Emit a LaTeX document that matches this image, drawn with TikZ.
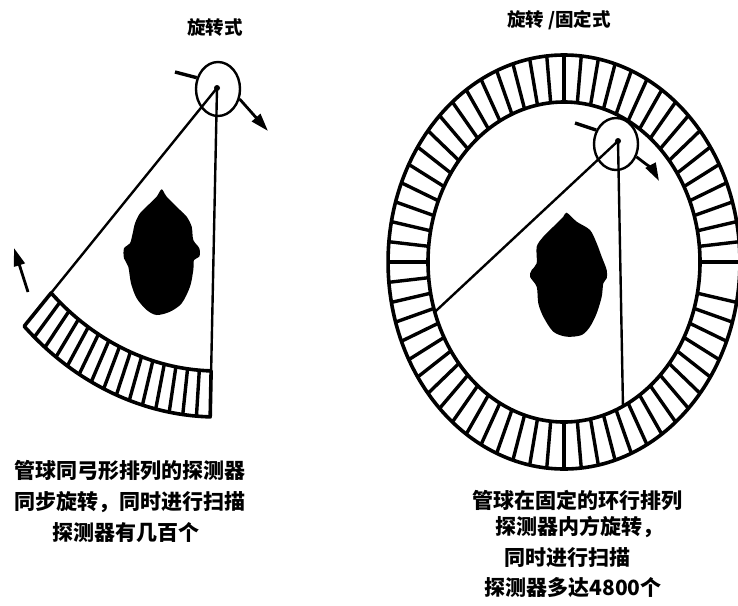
\documentclass[tikz,border=0pt]{standalone}
\usepackage{fontspec}
\newfontfamily\cjk{Noto Sans CJK SC}
\usetikzlibrary{arrows.meta,shapes.geometric}

\begin{document}
\begin{tikzpicture}[x=1pt,y=-1pt,line join=round,
  beamline/.style={line width=2.4pt},
  ringedge/.style={line width=3.6pt},
  cellwall/.style={line width=3.4pt},
  tubebox/.style={draw,ellipse,line width=2.4pt,minimum width=44pt,minimum height=54pt,inner sep=0pt},
  motionarrow/.style={line width=2.8pt,-{Triangle[length=18pt,width=11pt]}},
  stubline/.style={line width=3.4pt},
  focusdot/.style={circle,fill,inner sep=0pt,minimum size=6pt},
  headblob/.style={fill=black},
  captext/.style={font=\cjk\bfseries\fontsize{21}{21}\selectfont,inner sep=0pt},
  titletext/.style={font=\cjk\bfseries\fontsize{18.5}{18.5}\selectfont,inner sep=0pt}]
\useasboundingbox (0,0) rectangle (738,605);
\fill[white] (0,0) rectangle (738,605);

% ---------- rotate/rotate scanner ----------
\coordinate (fL) at (217,88);
\begin{scope}[shift={(217,88)},xscale=0.85,yscale=-1]
  \draw[ringedge] (226.4:283) arc[start angle=226.4,end angle=268.6,radius=283]
    -- (268.6:329) arc[start angle=268.6,end angle=226.4,radius=329] -- cycle;
  \foreach \i in {1,...,14}
    \draw[cellwall] ({226.4+\i*2.813}:283) -- ({226.4+\i*2.813}:329);
  \coordinate (dL1) at (226.4:283);
  \coordinate (dL2) at (268.6:283);
\end{scope}
\fill[headblob] plot[smooth cycle,tension=0.5] coordinates {
  (161.7,189.3) (166.7,196.7) (180,210) (186.7,216.7) (191.7,226.7) (193.3,240)
  (199.3,248.3) (199.3,256.7) (194,260) (193.3,270) (190,286.7) (181.7,303.3)
  (170,311.7) (156.7,315) (146.7,310) (136.7,298.3) (131,283.3) (128.3,266.7)
  (124,258.3) (124,248.3) (130,243.3) (132.7,233.3) (135,223.3) (140,213.3)
  (150,203.3) (156.7,196.7)};
\draw[beamline] (fL) -- (dL1);
\draw[beamline] (fL) -- (dL2);
\node[tubebox] (tubeL) at (218,89) {};
\node[focusdot] (dotL) at (fL) {};
\coordinate (sL) at (175,72);
\draw[stubline] (sL) -- (tubeL.152);
\coordinate (aL1) at (268,131);
\draw[motionarrow] (tubeL.-25) -- (aL1);
\coordinate (aL2s) at (28,292);
\coordinate (aL2e) at (14,248);
\draw[motionarrow] (aL2s) -- (aL2e);

\node[titletext] (titleL) at (215,28) {旋转式};
\node[captext] (capL1) at (130,471) {管球同弓形排列的探测器};
\node[captext] (capL2) at (130,502) {同步旋转，同时进行扫描};
\node[captext] (capL3) at (126,533) {探测器有几百个};

% ---------- rotate/stationary scanner ----------
\coordinate (fR) at (618,141);
\begin{scope}[shift={(564,262)},xscale=0.85,yscale=-1]
  \draw[ringedge] (0,0) circle[radius=160];
  \draw[ringedge] (0,0) circle[radius=207];
  \foreach \a in {0,5.625,...,354}
    \draw[cellwall] (\a:160) -- (\a:207);
  \coordinate (dR1) at (198.2:160);
  \coordinate (dR2) at (295.7:160);
\end{scope}
\fill[headblob] plot[smooth cycle,tension=0.5] coordinates {
  (566.7,212.7) (576.7,221.7) (590,230) (596.7,243.3) (601.7,256.7) (606.7,270)
  (606.7,278.3) (603.3,283.3) (601.7,296.7) (596.7,313.3) (590,326.7) (581.7,335)
  (566.7,336.7) (553.3,331.7) (543.3,316.7) (538.3,303.3) (536.7,286.7) (530,276.7)
  (531.7,270) (536.7,263.3) (536.7,246.7) (543.3,236.7) (553.3,226.7) (563.3,216.7)};
\draw[beamline] (fR) -- (dR1);
\draw[beamline] (fR) -- (dR2);
\node[tubebox,minimum height=52pt] (tubeR) at (616,144) {};
\node[focusdot] (dotR) at (fR) {};
\coordinate (sR) at (575,123);
\draw[stubline] (sR) -- (tubeR.145);
\coordinate (aR1) at (659,181);
\draw[motionarrow] (tubeR.-32) to[out=-38,in=118] (aR1);

\node[titletext] (titleR) at (559,20) {旋转 /固定式};
\node[captext] (capR1) at (577,500) {管球在固定的环行排列};
\node[captext] (capR2) at (579,527) {探测器内方旋转，};
\node[captext] (capR3) at (567,558) {同时进行扫描};
\node[captext] (capR4) at (573,588) {探测器多达4800个};
\end{tikzpicture}
\end{document}
